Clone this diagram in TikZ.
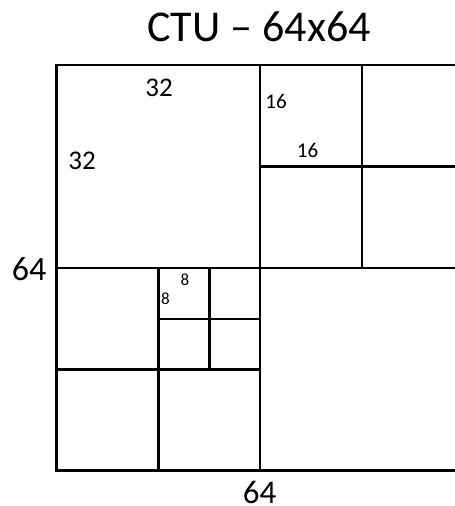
\documentclass[tikz,border=0pt]{standalone}
\usepackage{fontspec}
\setmainfont{Carlito}
\begin{document}
\begin{tikzpicture}[x=1pt,y=-1pt,
  grid/.style={line width=2.2pt,line cap=rect},
  lbl/.style={inner sep=0pt,anchor=center}]
\useasboundingbox (0,0) rectangle (455,506);
% outer square and partitions
\draw[grid] (56.5,65) rectangle (463.5,470.5);
\draw[grid] (260,65) -- (260,470.5);
\draw[grid] (56.5,268) -- (463.5,268);
% top-right quadrant
\draw[grid] (362,65) -- (362,268);
\draw[grid] (260,166.5) -- (463.5,166.5);
% bottom-left quadrant
\draw[grid] (158.5,268) -- (158.5,470.5);
\draw[grid] (56.5,369.5) -- (260,369.5);
% 8x8 blocks
\draw[grid] (209.5,268) -- (209.5,369.5);
\draw[grid] (158.5,319) -- (260,319);
% labels
\node[lbl,font=\fontsize{44}{48}\selectfont] (title) at (259,26.5) {CTU – 64x64};
\node[lbl,font=\fontsize{34}{38}\selectfont] (left64) at (29,269) {64};
\node[lbl,font=\fontsize{33}{36}\selectfont] (bot64) at (259.5,492) {64};
\node[lbl,font=\fontsize{27}{30}\selectfont] (t32) at (159,87.5) {32};
\node[lbl,font=\fontsize{27}{30}\selectfont] (l32) at (82,161) {32};
\node[lbl,font=\fontsize{21}{24}\selectfont] (a16) at (276,101.5) {16};
\node[lbl,font=\fontsize{21}{24}\selectfont] (b16) at (307.5,150) {16};
\node[lbl,font=\fontsize{17}{19}\selectfont] (a8) at (185,280) {8};
\node[lbl,font=\fontsize{17}{19}\selectfont] (b8) at (165.5,299) {8};
\end{tikzpicture}
\end{document}
